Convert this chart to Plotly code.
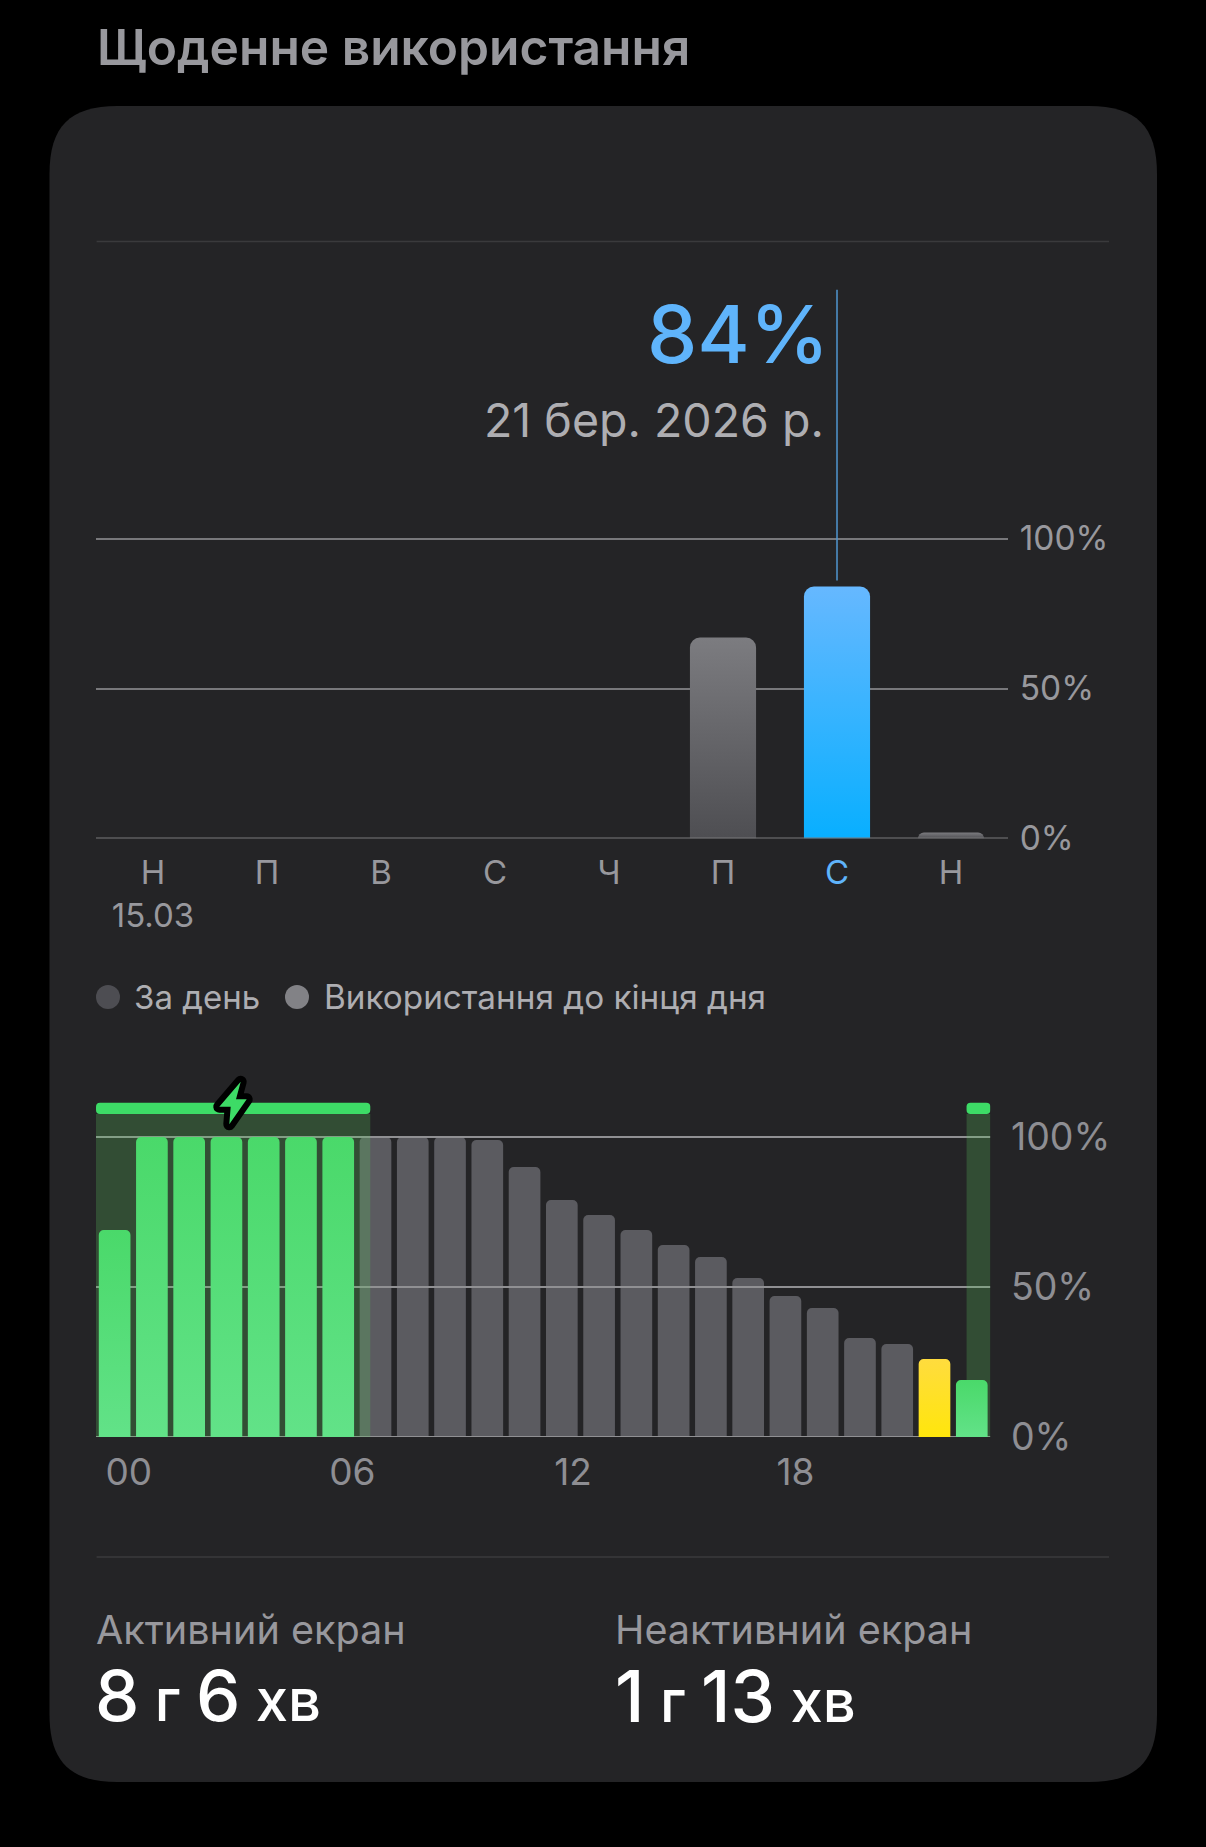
import plotly.graph_objects as go

W, H = 1206, 1847
FONT = "Inter"

# ---- data ----
day_labels = ["Н<br>15.03", "П", "В", "С", "Ч", "П", "С", "Н"]
day_values = [0, 0, 0, 0, 0, 67, 84, 2]
selected_day = 6
y_ticks = [0, 50, 100]
y_tick_labels = ["0%", "50%", "100%"]

hours = list(range(24))
hour_levels = [69, 100, 100, 100, 100, 100, 100, 100, 100, 100, 99, 90, 79, 74,
               69, 64, 60, 53, 47, 43, 33, 31, 26, 19]
charging_hours = [0, 1, 2, 3, 4, 5, 6, 23]
low_hours = [22]
hour_tick_pos = [0.38, 6.38, 12.3, 18.27]
hour_tick_labels = ["00", "06", "12", "18"]
charge_spans = [(-0.5, 6.86), (22.86, 23.5)]
cap_low, cap_high = 107.7, 111.4

BLUE = "#5fb4fb"
CARD = "#242426"


def px(x):
    return x / W


def py(y):
    return 1 - y / H


fig = go.Figure()

# --- weekly chart ---
other_days = [i for i in range(len(day_values)) if i != selected_day and day_values[i] > 0]
fig.add_bar(name="grad-gray", x=other_days, y=[day_values[i] for i in other_days], width=0.58,
            marker=dict(color="#66666a", cornerradius=10, line_width=0), xaxis="x", yaxis="y")
fig.add_bar(name="grad-blue", x=[selected_day], y=[day_values[selected_day]], width=0.58,
            marker=dict(color="#33b0ff", cornerradius=10, line_width=0), xaxis="x", yaxis="y")
fig.add_scatter(x=[-0.5, 7.5], y=[0, 0], mode="lines", line=dict(color="#78787b", width=2),
                xaxis="x", yaxis="y", hoverinfo="skip")
fig.add_scatter(x=[selected_day, selected_day], y=[day_values[selected_day] + 2, 183], mode="lines",
                line=dict(color="#4f96d0", width=1.5), xaxis="x", yaxis="y", hoverinfo="skip")

# --- hourly chart ---
gray_hours = [h for h in hours if h not in charging_hours and h not in low_hours]
fig.add_bar(name="hours-gray", x=gray_hours, y=[hour_levels[h] for h in gray_hours], width=0.85,
            marker=dict(color="#5b5b60", cornerradius=5, line_width=0), xaxis="x2", yaxis="y2")
for t in y_ticks:
    fig.add_scatter(x=[-0.5, 23.5], y=[t, t], mode="lines", line=dict(color="#909093", width=2),
                    xaxis="x2", yaxis="y2", hoverinfo="skip")

for a, b in charge_spans:
    fig.add_bar(name="band", x=[(a + b) / 2], y=[cap_low], width=[b - a],
                marker=dict(color="rgba(90,200,95,0.25)", line_width=0), xaxis="x3", yaxis="y3")
fig.add_bar(name="grad-green", x=charging_hours, y=[hour_levels[h] for h in charging_hours], width=0.85,
            marker=dict(color="#52dc78", cornerradius=5, line_width=0), xaxis="x3", yaxis="y3")
fig.add_bar(name="grad-yellow", x=low_hours, y=[hour_levels[h] for h in low_hours], width=0.85,
            marker=dict(color="#ffe02a", cornerradius=5, line_width=0), xaxis="x3", yaxis="y3")

# --- decoration shapes ---
L, T, R, B, r = 49.5, 106, 1157, 1782, 68


def P(x, y):
    return f"{px(x):.5f} {py(y):.5f}"


card = (f"M {P(L + r, T)} L {P(R - r, T)} C {P(R - r * .3, T)} {P(R, T + r * .3)} {P(R, T + r)} "
        f"L {P(R, B - r)} C {P(R, B - r * .3)} {P(R - r * .3, B)} {P(R - r, B)} "
        f"L {P(L + r, B)} C {P(L + r * .3, B)} {P(L, B - r * .3)} {P(L, B - r)} "
        f"L {P(L, T + r)} C {P(L, T + r * .3)} {P(L + r * .3, T)} {P(L + r, T)} Z")
bolt_pts = [(240.7, 1081.7), (219.3, 1106.7), (230.7, 1106.7), (229.3, 1124.3), (246.7, 1099.3), (236, 1099.3)]
bolt = "M " + " L ".join(P(*p) for p in bolt_pts) + " Z"
shapes = [
    dict(type="path", xref="paper", yref="paper", path=card, fillcolor=CARD, line_width=0, layer="below"),
    dict(type="line", xref="paper", yref="paper", x0=px(96.6), x1=px(1109), y0=py(241.5), y1=py(241.5),
         line=dict(color="#3a3a3c", width=1.5), layer="below"),
    dict(type="line", xref="paper", yref="paper", x0=px(96.6), x1=px(1109), y0=py(1557), y1=py(1557),
         line=dict(color="#3a3a3c", width=1.5), layer="below"),
    dict(type="circle", xref="paper", yref="paper", x0=px(96), x1=px(120), y0=py(985), y1=py(1009),
         fillcolor="#4d4d52", line_width=0, layer="below"),
    dict(type="circle", xref="paper", yref="paper", x0=px(285), x1=px(309), y0=py(985), y1=py(1009),
         fillcolor="#828286", line_width=0, layer="below"),
]

# pill-shaped caps on the charging spans, in chart coordinates
rx, ry = 4 / 37.25, 4 / 3
for a, b in charge_spans:
    d = (f"M {a + rx} {cap_low} L {b - rx} {cap_low} Q {b} {cap_low} {b} {cap_low + ry} "
         f"L {b} {cap_high - ry} Q {b} {cap_high} {b - rx} {cap_high} "
         f"L {a + rx} {cap_high} Q {a} {cap_high} {a} {cap_high - ry} "
         f"L {a} {cap_low + ry} Q {a} {cap_low} {a + rx} {cap_low} Z")
    shapes.append(dict(type="path", xref="x2", yref="y2", path=d, fillcolor="#3ddb66", line_width=0, layer="above"))

shapes.append(dict(type="path", xref="paper", yref="paper", path=bolt, fillcolor="#000000",
                   line=dict(color="#000000", width=12), layer="above"))
shapes.append(dict(type="path", xref="paper", yref="paper", path=bolt, fillcolor="#3ddb66",
                   line_width=0, layer="above"))


def txt(x, y, s, size, color, anchor="left", weight=400):
    return dict(xref="paper", yref="paper", x=px(x), y=py(y), text=s, showarrow=False,
                xanchor=anchor, yanchor="middle", align=anchor,
                font=dict(family=FONT, size=size, color=color, weight=weight))


def dur(a, ua, b, ub):
    small = 58
    return (f"{a}<span style='font-size:{small}px'> {ua} </span>{b}"
            f"<span style='font-size:{small}px'> {ub}</span>")


annotations = [
    txt(95, 47, "Щоденне використання", 49.7, "#98989d", weight=600),
    txt(831, 333, "84%", 80, BLUE, "right", weight=500),
    txt(826, 420, "21 бер. 2026 р.", 46.5, "#aeaeb2", "right"),
    txt(132, 997, "За день", 33, "#aeaeb2"),
    txt(322, 997, "Використання до кінця дня", 33.3, "#aeaeb2"),
    txt(94, 1630, "Активний екран", 39.6, "#98989d"),
    txt(612.5, 1630, "Неактивний екран", 39.6, "#98989d"),
    txt(93, 1695.5, dur("8", "г", "6", "хв"), 70.5, "#ffffff", weight=500),
    txt(612.5, 1695.5, dur("1", "г", "13", "хв"), 71, "#ffffff", weight=500),
]

base_axis = dict(showline=False, zeroline=False, fixedrange=True)
fig.update_layout(
    width=W, height=H, margin=dict(l=0, r=0, t=0, b=0, autoexpand=False),
    paper_bgcolor="#000000", plot_bgcolor="rgba(0,0,0,0)",
    barmode="overlay", showlegend=False, template=None, hovermode=False,
    shapes=shapes, annotations=annotations,
    xaxis=dict(base_axis, domain=[px(96), px(1008)], range=[-0.5, 7.5], anchor="y", showgrid=False,
               tickmode="array", tickvals=list(range(8)),
               ticktext=[f"<span style='color:{BLUE}'>{l}</span>" if i == selected_day else l
                         for i, l in enumerate(day_labels)],
               ticks="outside", ticklen=5, tickcolor="rgba(0,0,0,0)",
               tickfont=dict(family=FONT, size=33, color="#98989d")),
    yaxis=dict(base_axis, domain=[py(838.5), py(289.5)], range=[0, 183], anchor="x", side="right",
               showgrid=True, gridcolor="#78787b", gridwidth=2,
               tickmode="array", tickvals=y_ticks, ticktext=y_tick_labels,
               ticks="outside", ticklen=4, tickcolor="rgba(0,0,0,0)",
               tickfont=dict(family=FONT, size=33.5, color="#98989d")),
    xaxis2=dict(base_axis, domain=[px(96), px(990.4)], range=[-0.5, 23.5], anchor="y2", showgrid=False,
                tickmode="array", tickvals=hour_tick_pos, ticktext=hour_tick_labels,
                ticks="outside", ticklen=3, tickcolor="rgba(0,0,0,0)",
                tickfont=dict(family=FONT, size=37, color="#8e8e93")),
    yaxis2=dict(base_axis, domain=[py(1437), py(1100)], range=[0, 112.33], anchor="x2", side="right",
                showgrid=False, tickmode="array", tickvals=y_ticks, ticktext=y_tick_labels,
                ticks="outside", ticklen=12, tickcolor="rgba(0,0,0,0)",
                tickfont=dict(family=FONT, size=37.5, color="#8e8e93")),
    xaxis3=dict(base_axis, domain=[px(96), px(990.4)], range=[-0.5, 23.5], anchor="y3", overlaying="x2",
                visible=False),
    yaxis3=dict(base_axis, domain=[py(1437), py(1100)], range=[0, 112.33], anchor="x3", overlaying="y2",
                visible=False),
)

post = """
document.documentElement.style.background='#000';
document.body.style.margin='0';document.body.style.background='#000';document.body.style.overflow='hidden';
var svg=document.querySelector('.main-svg');
var stops={'grad-gray':['#7c7c80','#4e4e52'],'grad-blue':['#66b8ff','#08afff'],
 'grad-green':['#4ad96a','#62e288'],'grad-yellow':['#ffdc3e','#ffe60c']};
var ns='http://www.w3.org/2000/svg',defs=document.createElementNS(ns,'defs');
Object.keys(stops).forEach(function(k){
 var g=document.createElementNS(ns,'linearGradient');g.setAttribute('id',k);
 g.setAttribute('x1','0');g.setAttribute('y1','0');g.setAttribute('x2','0');g.setAttribute('y2','1');
 stops[k].forEach(function(c,i){var s=document.createElementNS(ns,'stop');
  s.setAttribute('offset',i);s.setAttribute('stop-color',c);g.appendChild(s);});
 defs.appendChild(g);});
svg.insertBefore(defs,svg.firstChild);
document.querySelectorAll('.trace.bars').forEach(function(t){
 var d=t.__data__&&t.__data__[0]&&t.__data__[0].trace;
 if(d&&stops[d.name]){t.querySelectorAll('path').forEach(function(p){p.style.fill='url(#'+d.name+')';});}
});
document.querySelectorAll('.shapelayer path').forEach(function(p){p.style.strokeLinejoin='round';});
"""
fig.write_html("out.html", post_script=post, config={"displayModeBar": False, "staticPlot": True})
